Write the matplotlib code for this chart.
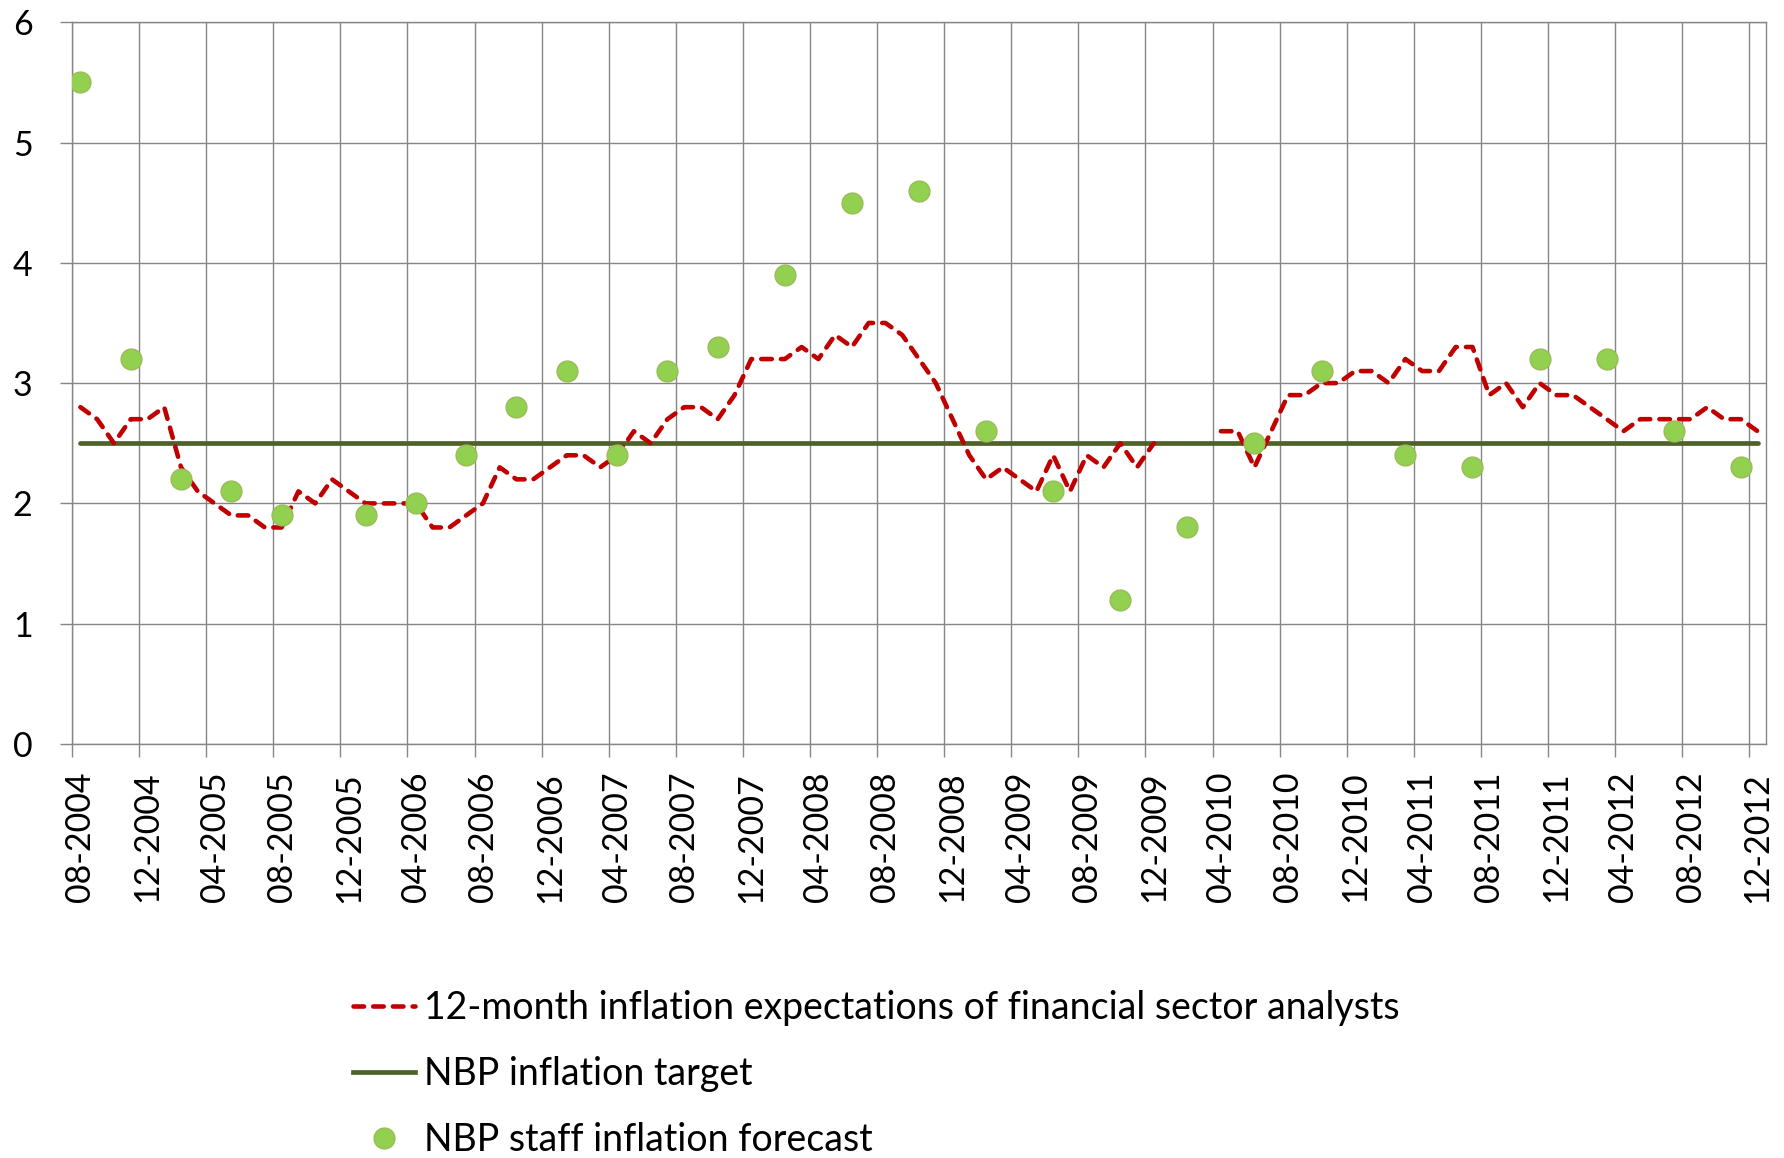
import numpy as np
import matplotlib
matplotlib.use("Agg")
import matplotlib.pyplot as plt
from matplotlib.lines import Line2D

# ---------------- data ----------------
start_year, start_month = 2004, 8
n_months = 101  # 08-2004 ... 12-2012
months = [f"{(start_month - 1 + i) % 12 + 1:02d}-{start_year + (start_month - 1 + i) // 12}"
          for i in range(n_months)]

tick_labels = ["08-2004", "12-2004", "04-2005", "08-2005", "12-2005", "04-2006",
               "08-2006", "12-2006", "04-2007", "08-2007", "12-2007", "04-2008",
               "08-2008", "12-2008", "04-2009", "08-2009", "12-2009", "04-2010",
               "08-2010", "12-2010", "04-2011", "08-2011", "12-2011", "04-2012",
               "08-2012", "12-2012"]

nan = np.nan
expectations = [
    2.8, 2.7, 2.5, 2.7, 2.7, 2.8, 2.3, 2.1, 2.0, 1.9,   # 08-2004 .. 05-2005
    1.9, 1.8, 1.8, 2.1, 2.0, 2.2, 2.1, 2.0, 2.0, 2.0,   # 06-2005 .. 03-2006
    2.0, 1.8, 1.8, 1.9, 2.0, 2.3, 2.2, 2.2, 2.3, 2.4,   # 04-2006 .. 01-2007
    2.4, 2.3, 2.4, 2.6, 2.5, 2.7, 2.8, 2.8, 2.7, 2.9,   # 02-2007 .. 11-2007
    3.2, 3.2, 3.2, 3.3, 3.2, 3.4, 3.3, 3.5, 3.5, 3.4,   # 12-2007 .. 09-2008
    3.2, 3.0, 2.7, 2.4, 2.2, 2.3, 2.2, 2.1, 2.4, 2.1,   # 10-2008 .. 07-2009
    2.4, 2.3, 2.5, 2.3, 2.5, nan, nan, nan, 2.6, 2.6,   # 08-2009 .. 05-2010
    2.3, 2.6, 2.9, 2.9, 3.0, 3.0, 3.1, 3.1, 3.0, 3.2,   # 06-2010 .. 03-2011
    3.1, 3.1, 3.3, 3.3, 2.9, 3.0, 2.8, 3.0, 2.9, 2.9,   # 04-2011 .. 01-2012
    2.8, 2.7, 2.6, 2.7, 2.7, 2.7, 2.7, 2.8, 2.7, 2.7,   # 02-2012 .. 11-2012
    2.6,                                                # 12-2012
]

target_value = 2.5

forecast_months = ["08-2004", "11-2004", "02-2005", "05-2005", "08-2005", "01-2006",
                   "04-2006", "07-2006", "10-2006", "01-2007", "04-2007", "07-2007",
                   "10-2007", "02-2008", "06-2008", "10-2008", "02-2009", "06-2009",
                   "10-2009", "02-2010", "06-2010", "10-2010", "03-2011", "07-2011",
                   "11-2011", "03-2012", "07-2012", "11-2012"]
forecast_values = [5.5, 3.2, 2.2, 2.1, 1.9, 1.9, 2.0, 2.4, 2.8, 3.1, 2.4, 3.1,
                   3.3, 3.9, 4.5, 4.6, 2.6, 2.1, 1.2, 1.8, 2.5, 3.1, 2.4, 2.3,
                   3.2, 3.2, 2.6, 2.3]

legend_labels = ["12-month inflation expectations of financial sector analysts",
                 "NBP inflation target",
                 "NBP staff inflation forecast"]

# ---------------- style ----------------
RED = "#C00000"
OLIVE = "#4F6228"
GREEN = "#92D050"
GREEN_EDGE = "#9BBB59"
GRID = "#868686"
FONT = ["Lato", "DejaVu Sans"]
FS = 24.5
LEG_FS = 27

plt.rcParams["font.family"] = FONT

W, H = 1784, 1158
fig = plt.figure(figsize=(W / 100, H / 100), dpi=100)
left, right, top, bottom = 72, 1766, 22.2, 744
ax = fig.add_axes([left / W, 1 - bottom / H, (right - left) / W, (bottom - top) / H])

x = np.arange(n_months) + 0.5
idx = {m: i for i, m in enumerate(months)}
fx = np.array([idx[m] for m in forecast_months]) + 0.5

dash = (0, (2.3, 2.0))
RED_LW = 3.3
ax.plot(x, np.full(n_months, target_value), color=OLIVE, lw=3.4,
        solid_capstyle="round", zorder=3)
ax.plot(x, expectations, color=RED, lw=RED_LW, linestyle=dash,
        dash_capstyle="round", zorder=4)
ax.plot(fx, forecast_values, linestyle="none", marker="o", ms=15,
        mfc=GREEN, mec=GREEN_EDGE, mew=1.0, zorder=5)

ax.set_xlim(0, n_months)
ax.set_ylim(0, 6)

# x axis: tick marks/grid at category boundaries, labels centred on categories
major = np.arange(0, n_months, 4)
ax.set_xticks(major)
ax.set_xticklabels([])
ax.set_xticks(major + 0.5, minor=True)
ax.set_xticklabels(tick_labels, minor=True, rotation=90, fontsize=FS)
ax.tick_params(axis="x", which="major", length=9, width=1.0, color=GRID,
               direction="out")
ax.tick_params(axis="x", which="minor", length=0, pad=20)

ax.set_yticks(np.arange(0, 7, 1))
ax.set_yticklabels([str(v) for v in range(7)], fontsize=FS)
ax.tick_params(axis="y", length=9, width=1.0, color=GRID, direction="out", pad=19.5)

ax.grid(True, which="major", color=GRID, lw=1.0)
ax.set_axisbelow(True)
for s in ax.spines.values():
    s.set_color(GRID)
    s.set_linewidth(1.0)

handles = [
    Line2D([], [], color=RED, lw=RED_LW, linestyle=dash, dash_capstyle="round"),
    Line2D([], [], color=OLIVE, lw=3.4),
    Line2D([], [], linestyle="none", marker="o", ms=15, mfc=GREEN,
           mec=GREEN_EDGE, mew=1.0),
]
ax.legend(handles, legend_labels, loc="upper left",
          bbox_to_anchor=(353 / W, 1 - 990 / H), bbox_transform=fig.transFigure,
          frameon=False, fontsize=LEG_FS, handlelength=1.65, handletextpad=0.24,
          labelspacing=0.8, borderpad=0, borderaxespad=0)

fig.savefig("out.png", dpi=100)
